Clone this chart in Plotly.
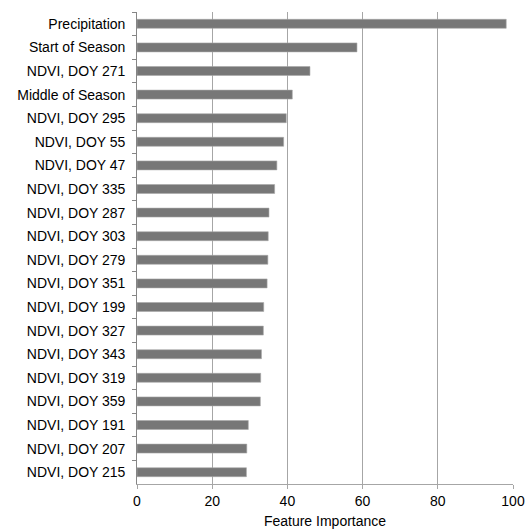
import plotly.graph_objects as go

features = ["Precipitation", "Start of Season", "NDVI, DOY 271", "Middle of Season",
            "NDVI, DOY 295", "NDVI, DOY 55", "NDVI, DOY 47", "NDVI, DOY 335",
            "NDVI, DOY 287", "NDVI, DOY 303", "NDVI, DOY 279", "NDVI, DOY 351",
            "NDVI, DOY 199", "NDVI, DOY 327", "NDVI, DOY 343", "NDVI, DOY 319",
            "NDVI, DOY 359", "NDVI, DOY 191", "NDVI, DOY 207", "NDVI, DOY 215"]
importance = [98.2, 58.5, 46.0, 41.3, 39.7, 39.0, 37.2, 36.6, 35.1, 34.9,
              34.8, 34.6, 33.7, 33.6, 33.1, 32.9, 32.8, 29.6, 29.2, 29.1]
x_ticks = [0, 20, 40, 60, 80, 100]

fig = go.Figure(go.Bar(
    x=importance, y=features, orientation="h",
    marker=dict(color="#777777", line=dict(color="#a8a8a8", width=0.6)),
))

fig.update_layout(
    width=525, height=529,
    margin=dict(l=137, r=12, t=12, b=45),
    plot_bgcolor="white", paper_bgcolor="white",
    font=dict(family="Liberation Sans, Arial, sans-serif", size=14, color="#000000"),
    bargap=0.62,
    showlegend=False,
)
fig.update_xaxes(
    range=[0, 100], tickvals=x_ticks, automargin=False,
    showgrid=True, gridcolor="#a6a6a6", gridwidth=1.2,
    showline=True, linecolor="#a6a6a6", linewidth=1,
    zeroline=False, ticks="outside", ticklen=4, tickcolor="#a6a6a6",
    title=dict(text="Feature Importance", font=dict(size=14)),
    tickfont=dict(size=14),
)
fig.update_yaxes(
    autorange="reversed", automargin=False,
    showgrid=False, showline=True, linecolor="#868686", linewidth=1,
    ticks="outside", ticklen=4, tickcolor="#868686", tickson="boundaries",
    tickfont=dict(size=14), ticksuffix="  ",
)

fig.write_html("out.html", config={"displayModeBar": False},
               post_script="document.body.style.margin='0px';")
